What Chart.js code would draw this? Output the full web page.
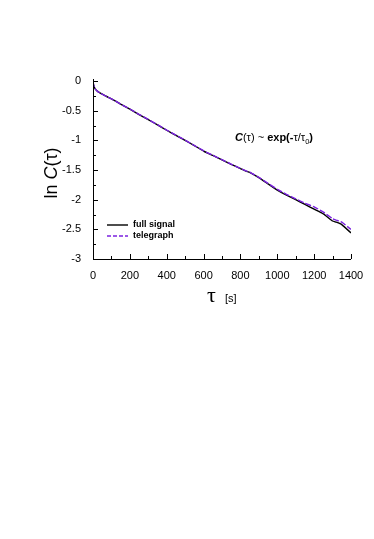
<!DOCTYPE html>
<html>
<head>
<meta charset="utf-8">
<script src="https://cdn.jsdelivr.net/npm/chart.js@4/dist/chart.umd.min.js"></script>
<style>
  html, body { margin: 0; padding: 0; background: #fff; }
  #wrap { width: 374px; height: 539px; position: relative; }
</style>
</head>
<body>
<div id="wrap"><canvas id="chart"></canvas></div>
<script>
// tau in seconds
const tau = [0, 3, 8, 15, 25, 40, 60, 80, 100, 150, 200, 250, 300, 350, 400, 450, 500, 550, 600, 650,
  700, 750, 800, 830, 850, 900, 950, 1000, 1050, 1100, 1150, 1200, 1250, 1300, 1320, 1350, 1400];
const fullSignal = [0, -0.06, -0.11, -0.145, -0.175, -0.205, -0.24, -0.27, -0.3, -0.39, -0.475, -0.565, -0.65, -0.74, -0.83, -0.915, -1.0, -1.09, -1.18, -1.255,
  -1.33, -1.405, -1.475, -1.52, -1.54, -1.63, -1.735, -1.84, -1.925, -2.0, -2.08, -2.16, -2.24, -2.36, -2.38, -2.42, -2.56];
const telegraph = [0, -0.06, -0.11, -0.145, -0.175, -0.205, -0.24, -0.27, -0.3, -0.39, -0.472, -0.562, -0.647, -0.737, -0.827, -0.912, -0.997, -1.087, -1.177, -1.252,
  -1.327, -1.402, -1.472, -1.515, -1.535, -1.625, -1.725, -1.825, -1.91, -1.985, -2.06, -2.12, -2.21, -2.32, -2.345, -2.38, -2.5];
const xTicks = [0, 200, 400, 600, 800, 1000, 1200, 1400];
const yTicks = [0, -0.5, -1, -1.5, -2, -2.5, -3];

const pts = (ys) => tau.map((t, i) => ({ x: t, y: ys[i] }));
const SANS = '"Liberation Sans", Arial, sans-serif';

const decor = {
  id: 'decor',
  afterDraw(c) {
    const ctx = c.ctx, x = c.scales.x, y = c.scales.y, a = c.chartArea;
    ctx.save();
    ctx.strokeStyle = '#000';
    ctx.lineWidth = 1;
    // axes lines
    ctx.beginPath();
    ctx.moveTo(a.left + 0.5, a.top - 2);
    ctx.lineTo(a.left + 0.5, a.bottom + 0.5);
    ctx.lineTo(a.right, a.bottom + 0.5);
    ctx.stroke();
    // inward ticks
    ctx.beginPath();
    for (let v = 0; v <= 1400; v += 100) {
      const px = Math.round(x.getPixelForValue(v)) + 0.5;
      const len = v % 200 === 0 ? 5 : 3;
      ctx.moveTo(px, a.bottom);
      ctx.lineTo(px, a.bottom - len);
    }
    for (let v = 0; v >= -3; v -= 0.25) {
      const py = Math.round(y.getPixelForValue(v)) + 0.5;
      const len = Math.abs(v * 2 - Math.round(v * 2)) < 1e-6 ? 5 : 3;
      ctx.moveTo(a.left, py);
      ctx.lineTo(a.left + len, py);
    }
    ctx.stroke();

    // legend
    const lx = 107, ly = [225, 236];
    ctx.lineWidth = 1.4;
    ctx.strokeStyle = '#000';
    ctx.beginPath(); ctx.moveTo(lx, ly[0]); ctx.lineTo(lx + 21, ly[0]); ctx.stroke();
    ctx.strokeStyle = '#7b22e0';
    ctx.setLineDash([4, 2]);
    ctx.beginPath(); ctx.moveTo(lx, ly[1]); ctx.lineTo(lx + 21, ly[1]); ctx.stroke();
    ctx.setLineDash([]);
    ctx.fillStyle = '#000';
    ctx.font = 'bold 9px ' + SANS;
    ctx.textBaseline = 'middle';
    ctx.fillText(c.data.datasets[0].label, lx + 26, ly[0]);
    ctx.fillText(c.data.datasets[1].label, lx + 26, ly[1]);

    // annotation C(τ) ~ exp(-τ/τ0)
    let ax = 235, ay = 141;
    ctx.textBaseline = 'alphabetic';
    const seg = (t, f, dy) => { ctx.font = f; ctx.fillText(t, ax, ay + (dy || 0)); ax += ctx.measureText(t).width; };
    seg('C', 'bold italic 11px ' + SANS);
    seg('(τ) ~ ', '11px ' + SANS);
    seg('exp(-', 'bold 11px ' + SANS);
    seg('τ/τ', '11px ' + SANS);
    seg('0', '7.5px ' + SANS, 3);
    seg(')', 'bold 11px ' + SANS);

    // x title
    ctx.font = '22px "Liberation Serif", "DejaVu Serif", serif';
    ctx.fillText('τ', 207, 302);
    ctx.font = '11px ' + SANS;
    ctx.fillText('[s]', 225, 302);

    // y title
    ctx.translate(57, 173);
    ctx.rotate(-Math.PI / 2);
    const yf = '18px ' + SANS;
    const parts = [['ln ', yf], ['C', 'italic ' + yf], ['(τ)', yf]];
    let w = 0;
    parts.forEach(p => { ctx.font = p[1]; w += ctx.measureText(p[0]).width; });
    let tx = -w / 2;
    parts.forEach(p => { ctx.font = p[1]; ctx.fillText(p[0], tx, 0); tx += ctx.measureText(p[0]).width; });
    ctx.restore();
  }
};

new Chart(document.getElementById('chart'), {
  type: 'line',
  data: {
    datasets: [
      { label: 'full signal', data: pts(fullSignal), borderColor: '#000', borderWidth: 1.4, pointRadius: 0, tension: 0.1, order: 1 },
      { label: 'telegraph', data: pts(telegraph), borderColor: '#7b22e0', borderWidth: 1.4, borderDash: [6, 2], pointRadius: 0, tension: 0.1, order: 0 }
    ]
  },
  options: {
    responsive: true,
    maintainAspectRatio: false,
    animation: false,
    layout: { padding: { left: 0, top: 81, right: 23, bottom: 250 } },
    plugins: { legend: { display: false }, tooltip: { enabled: false } },
    scales: {
      x: {
        type: 'linear', min: 0, max: 1400,
        afterFit: s => { s.height = 30; },
        afterBuildTicks: s => { s.ticks = xTicks.map(v => ({ value: v })); },
        grid: { display: false },
        border: { display: false },
        ticks: { color: '#000', font: { size: 11, family: SANS }, padding: 2, maxRotation: 0, callback: v => String(v) }
      },
      y: {
        type: 'linear', min: -3, max: 0,
        afterFit: s => { s.width = 93; },
        afterBuildTicks: s => { s.ticks = yTicks.map(v => ({ value: v })); },
        grid: { display: false },
        border: { display: false },
        ticks: { color: '#000', font: { size: 11, family: SANS }, padding: 4, callback: v => String(v) }
      }
    }
  },
  plugins: [decor]
});
</script>
</body>
</html>
